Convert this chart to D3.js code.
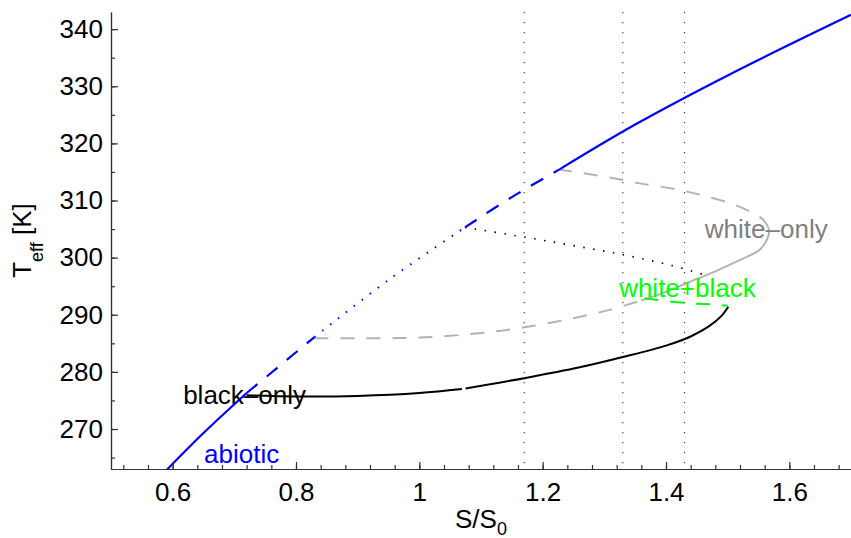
<!DOCTYPE html>
<html>
<head>
<meta charset="utf-8">
<script src="https://cdn.jsdelivr.net/npm/d3@7"></script>
<style>
  body { margin: 0; background: #fff; }
  svg { display: block; font-family: "Liberation Sans", Arial, Helvetica, sans-serif; }
</style>
</head>
<body>
<div id="chart"></div>
<script>
// ---- data (S/S0, T_eff in K) ----

// abiotic branch, split where the line style changes
var abioticS1 = [0.59, 0.65, 0.72];
var abioticT1 = [262.8, 269.3, 276.3];
var abioticS2 = [0.72, 0.83];
var abioticT2 = [276.3, 286.1];
var abioticS3 = [0.83, 0.95, 1.074];
var abioticT3 = [286.1, 296.1, 305.3];
var abioticS4 = [1.074, 1.15, 1.228];
var abioticT4 = [305.3, 310.6, 315.5];
var abioticS5 = [1.228, 1.35, 1.5, 1.7];
var abioticT5 = [315.5, 323.3, 331.9, 342.5];

// black-only branch (small break near S = 1.07)
var blackS1 = [0.72, 0.8, 0.9, 1.0, 1.069];
var blackT1 = [275.9, 275.7, 275.8, 276.3, 277.0];
var blackS2 = [1.075, 1.17, 1.26, 1.33, 1.40, 1.44, 1.47, 1.49, 1.501];
var blackT2 = [277.1, 278.9, 280.8, 282.6, 284.6, 286.2, 288.0, 289.8, 291.4];

// white-only branch
var whiteS1 = [0.83, 0.9, 1.0, 1.1, 1.17, 1.25, 1.31, 1.36];
var whiteT1 = [285.9, 285.9, 286.0, 286.8, 287.8, 289.4, 290.9, 292.5];
var whiteS2 = [1.36, 1.40, 1.435, 1.48, 1.52, 1.552, 1.563, 1.567, 1.566];
var whiteT2 = [292.5, 294.0, 295.6, 297.6, 299.6, 301.4, 303.0, 304.3, 305.3];
var whiteS3 = [1.566, 1.558, 1.541, 1.51, 1.466, 1.42, 1.358, 1.30, 1.228];
var whiteT3 = [305.3, 306.6, 307.8, 309.3, 310.7, 311.9, 313.0, 314.2, 315.4];

// white+black branches
var mixedS1 = [1.074, 1.17, 1.25, 1.331, 1.41, 1.462];
var mixedT1 = [305.3, 303.6, 302.1, 300.5, 298.6, 297.0];
var mixedS2 = [1.365, 1.40, 1.44, 1.475, 1.50];
var mixedT2 = [292.9, 292.4, 292.0, 291.8, 291.6];

// vertical reference lines
var markS = [1.17, 1.33, 1.43];

// axis ticks
var xTicks = [0.6, 0.8, 1, 1.2, 1.4, 1.6];
var yTicks = [270, 280, 290, 300, 310, 320, 330, 340];

// labels
var labelText = ["abiotic", "black\u2013only", "white\u2013only", "white+black"];
var labelS = [0.651, 0.617, 1.463, 1.324];
var labelT = [264.0, 274.4, 303.4, 293.1];

// ---- drawing ----
var width = 851, height = 538;
var plotLeft = 111, plotRight = 851, plotTop = 12, plotBottom = 469;

var x = d3.scaleLinear().domain([0.5, 1.7]).range([plotLeft, plotRight]);
var y = d3.scaleLinear().domain([263, 343]).range([plotBottom, plotTop]);

var blue = "#0000ff", gray = "#b3b3b3", green = "#00ff00";
var dashed = "14,12", dotted = "1.5,8.5";

var svg = d3.select("#chart").append("svg")
  .attr("width", width)
  .attr("height", height);

svg.append("clipPath").attr("id", "plot")
  .append("rect")
  .attr("x", plotLeft).attr("y", plotTop)
  .attr("width", plotRight - plotLeft).attr("height", plotBottom - plotTop);

var plot = svg.append("g").attr("clip-path", "url(#plot)");

// dotted vertical markers
plot.selectAll(".mark")
  .data(markS)
  .enter().append("line")
  .attr("x1", function(d) { return x(d); })
  .attr("x2", function(d) { return x(d); })
  .attr("y1", y(343))
  .attr("y2", y(263))
  .attr("stroke", "#444")
  .attr("stroke-width", 1.2)
  .attr("stroke-dasharray", "1.2,8.8");

var segments = [
  {s: whiteS1, t: whiteT1, color: gray, dash: dashed, w: 2},
  {s: whiteS2, t: whiteT2, color: gray, dash: null, w: 2},
  {s: whiteS3, t: whiteT3, color: gray, dash: dashed, w: 2},
  {s: mixedS1, t: mixedT1, color: "#000", dash: dotted, w: 1.6},
  {s: mixedS2, t: mixedT2, color: green, dash: dashed, w: 2},
  {s: blackS1, t: blackT1, color: "#000", dash: null, w: 2},
  {s: blackS2, t: blackT2, color: "#000", dash: null, w: 2},
  {s: abioticS1, t: abioticT1, color: blue, dash: null, w: 2.2},
  {s: abioticS2, t: abioticT2, color: blue, dash: dashed, w: 2.2},
  {s: abioticS3, t: abioticT3, color: blue, dash: dotted, w: 2},
  {s: abioticS4, t: abioticT4, color: blue, dash: dashed, w: 2.2},
  {s: abioticS5, t: abioticT5, color: blue, dash: null, w: 2.2}
];

var line = d3.line()
  .x(function(p) { return x(p[0]); })
  .y(function(p) { return y(p[1]); })
  .curve(d3.curveCatmullRom.alpha(0.5));

plot.selectAll(".branch")
  .data(segments)
  .enter().append("path")
  .attr("class", "branch")
  .attr("fill", "none")
  .attr("stroke", function(d) { return d.color; })
  .attr("stroke-width", function(d) { return d.w; })
  .attr("stroke-dasharray", function(d) { return d.dash; })
  .attr("d", function(d) {
    return line(d.s.map(function(s, i) { return [s, d.t[i]]; }));
  });

// axes: minor ticks first, then labelled major ticks
var xMinor = d3.range(13, 43).map(function(i) { return i * 0.04; });
var yMinor = d3.range(265, 345, 5);

function styleAxis(g) {
  g.attr("font-size", 26).attr("font-family", null);
  g.selectAll("path, line").attr("stroke", "#333").attr("stroke-width", 1.2);
  g.selectAll("text").attr("fill", "#000");
}

svg.append("g")
  .attr("transform", "translate(0," + plotBottom + ")")
  .call(d3.axisBottom(x).tickValues(xMinor).tickSize(-4).tickSizeOuter(0).tickFormat(""))
  .call(styleAxis);

svg.append("g")
  .attr("transform", "translate(0," + plotBottom + ")")
  .call(d3.axisBottom(x).tickValues(xTicks).tickSize(-7).tickSizeOuter(0)
    .tickPadding(13.5).tickFormat(d3.format("")))
  .call(styleAxis);

svg.append("g")
  .attr("transform", "translate(" + plotLeft + ",0)")
  .call(d3.axisLeft(y).tickValues(yMinor).tickSize(-4).tickSizeOuter(0).tickFormat(""))
  .call(styleAxis);

svg.append("g")
  .attr("transform", "translate(" + plotLeft + ",0)")
  .call(d3.axisLeft(y).tickValues(yTicks).tickSize(-7).tickSizeOuter(0)
    .tickPadding(8).tickFormat(d3.format("")))
  .call(styleAxis);

// axis titles
var xTitle = svg.append("text")
  .attr("x", (plotLeft + plotRight) / 2)
  .attr("y", 528)
  .attr("text-anchor", "middle")
  .attr("font-size", 26);
xTitle.append("tspan").text("S/S");
xTitle.append("tspan").attr("font-size", 18).attr("dy", 7).text("0");

var yTitle = svg.append("text")
  .attr("transform", "translate(31," + (plotTop + plotBottom) / 2 + ") rotate(-90)")
  .attr("text-anchor", "middle")
  .attr("font-size", 26);
yTitle.append("tspan").text("T");
yTitle.append("tspan").attr("font-size", 18).attr("dy", 12).text("eff");
yTitle.append("tspan").attr("dy", -12).text(" [K]");

// branch labels
var labelColor = [blue, "#000", "#808080", green];
svg.selectAll(".label")
  .data(labelText)
  .enter().append("text")
  .attr("class", "label")
  .attr("x", function(d, i) { return x(labelS[i]); })
  .attr("y", function(d, i) { return y(labelT[i]); })
  .attr("font-size", 26)
  .attr("fill", function(d, i) { return labelColor[i]; })
  .text(function(d) { return d; });
</script>
</body>
</html>
